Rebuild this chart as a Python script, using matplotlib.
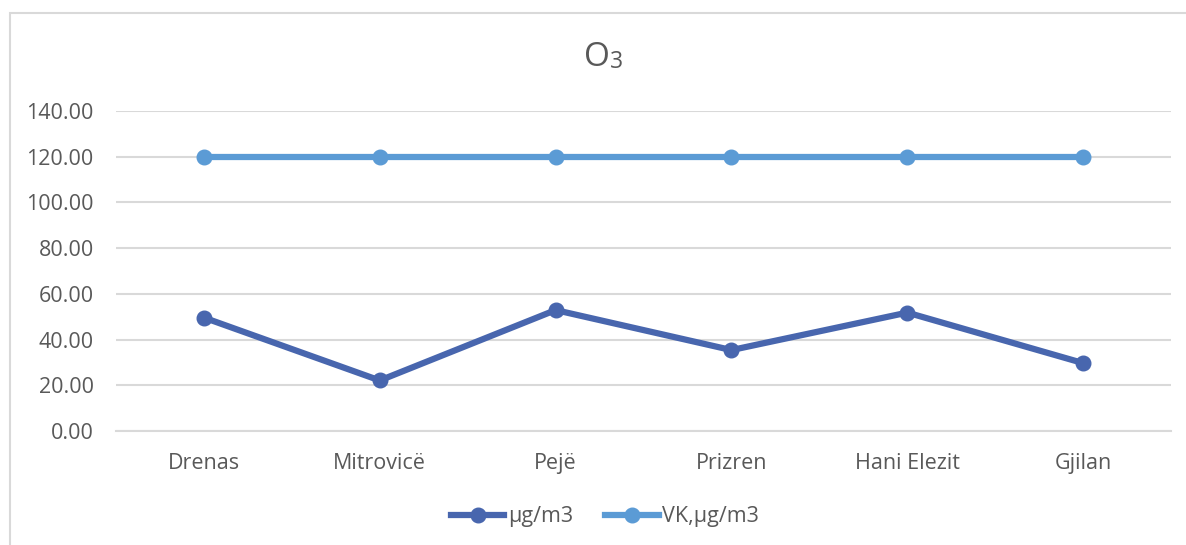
import matplotlib.pyplot as plt
from matplotlib.patches import Rectangle
from matplotlib.lines import Line2D

plt.rcParams['font.family'] = ['Open Sans', 'DejaVu Sans']

stations = ['Drenas', 'Mitrovicë', 'Pejë', 'Prizren', 'Hani Elezit', 'Gjilan']
o3_values = [49.6, 22.1, 52.9, 35.4, 51.8, 29.7]
limit_values = [120, 120, 120, 120, 120, 120]
series_names = ['µg/m3', 'VK,µg/m3']
yticks = [0, 20, 40, 60, 80, 100, 120, 140]

dark = '#4866AE'
light = '#5B9BD5'
grey = '#595959'

fig = plt.figure(figsize=(11.86, 5.45), dpi=100)
ax = fig.add_axes([0.0978, 0.2092, 0.8896, 0.5871])

# outer chart frame (only left and top visible in the crop)
fig.patches.append(Rectangle((10 / 1186, -0.1), 1.2, 1 - 13 / 545 + 0.1,
                             transform=fig.transFigure, fill=False,
                             edgecolor='#D9D9D9', linewidth=1.5))

x = range(len(stations))
ax.plot(x, o3_values, color=dark, linewidth=4.5, marker='o', markersize=10.5,
        label=series_names[0], zorder=3)
ax.plot(x, limit_values, color=light, linewidth=4.5, marker='o', markersize=10.5,
        label=series_names[1], zorder=3)

ax.set_xlim(-0.5, len(stations) - 0.5)
ax.set_ylim(0, 140)
ax.set_yticks(yticks)
ax.set_yticklabels([f'{v:.2f}' for v in yticks])
ax.set_xticks(list(x))
ax.set_xticklabels(stations)
ax.grid(axis='y', color='#D9D9D9', linewidth=1.5)
ax.set_axisbelow(True)
for s in ['top', 'right', 'left']:
    ax.spines[s].set_visible(False)
ax.spines['bottom'].set_color('#D9D9D9')
ax.spines['bottom'].set_linewidth(1.5)
ax.tick_params(axis='both', length=0, labelsize=15.5, colors=grey)
ax.tick_params(axis='y', pad=16)
ax.tick_params(axis='x', pad=16)

fig.text(0.514, 0.895, 'O', fontsize=24, color=grey, ha='right', va='center')
fig.text(0.514, 0.886, '3', fontsize=16.5, color=grey, ha='left', va='center')

handles = [Line2D([], [], color=dark, linewidth=4.5, marker='o', markersize=10.5),
           Line2D([], [], color=light, linewidth=4.5, marker='o', markersize=10.5)]
fig.legend(handles, series_names, loc='center', bbox_to_anchor=(0.51, 0.052),
           ncol=2, frameon=False, fontsize=15.5, labelcolor=grey,
           handlelength=2.5, handletextpad=0.15, columnspacing=1.5)

fig.savefig('out.png', dpi=100)
